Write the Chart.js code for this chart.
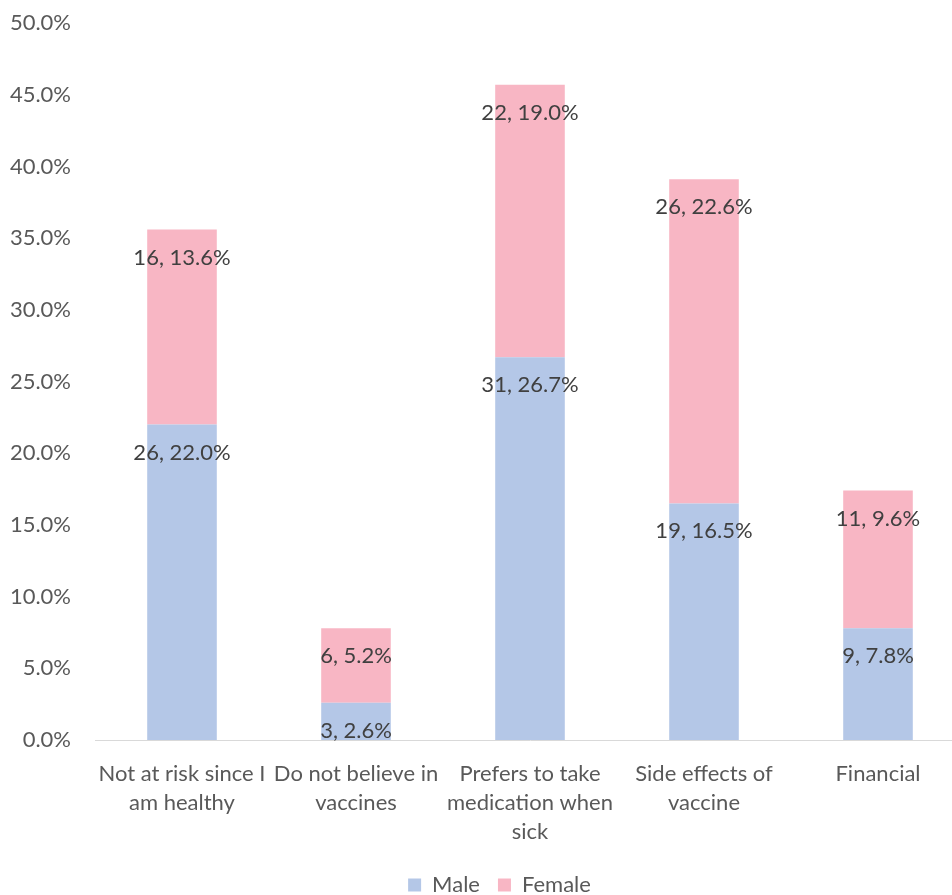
<!DOCTYPE html>
<html>
<head>
<meta charset="utf-8">
<script src="https://cdn.jsdelivr.net/npm/chart.js@4.4.1/dist/chart.umd.min.js"></script>
<style>
  html, body { margin: 0; padding: 0; background: #fff; }
  #wrap { width: 952px; height: 895px; overflow: hidden; position: relative; }
  #box { width: 1000px; height: 906px; }
</style>
</head>
<body>
<div id="wrap"><div id="box"><canvas id="c"></canvas></div></div>
<script>
// ---- data ----
const categories = [
  ['Not at risk since I', 'am healthy'],
  ['Do not believe in', 'vaccines'],
  ['Prefers to take', 'medication when', 'sick'],
  ['Side effects of', 'vaccine'],
  ['Financial']
];
const malePct     = [22.0, 2.6, 26.7, 16.5, 7.8];
const maleCount   = [26, 3, 31, 19, 9];
const femalePct   = [13.6, 5.2, 19.0, 22.6, 9.6];
const femaleCount = [16, 6, 22, 26, 11];
const yTicks      = [0, 5, 10, 15, 20, 25, 30, 35, 40, 45, 50];

const FONT = 'Lato, "Open Sans", sans-serif';
const TXT = '#595959';

// inside-end labels "count, pct%"
const barLabels = {
  id: 'barLabels',
  afterDatasetsDraw(chart) {
    const ctx = chart.ctx;
    ctx.save();
    ctx.font = '22px ' + FONT;
    ctx.fillStyle = '#404040';
    ctx.textAlign = 'center';
    ctx.textBaseline = 'middle';
    chart.data.datasets.forEach((ds, di) => {
      const meta = chart.getDatasetMeta(di);
      meta.data.forEach((bar, i) => {
        const txt = ds.counts[i] + ', ' + ds.data[i].toFixed(1) + '%';
        ctx.fillText(txt, bar.x, bar.y + 28);
      });
    });
    ctx.restore();
  }
};

// legend centred on the whole figure rather than the plot box
const legendShift = {
  id: 'legendShift',
  afterLayout(chart) {
    if (chart.legend) { chart.legend.left += 17; chart.legend.right += 17; }
  }
};

new Chart(document.getElementById('c'), {
  type: 'bar',
  data: {
    labels: categories,
    datasets: [
      { label: 'Male', data: malePct, counts: maleCount, backgroundColor: '#b4c7e7', stack: 's',
        barPercentage: 0.8, categoryPercentage: 0.5 },
      { label: 'Female', data: femalePct, counts: femaleCount, backgroundColor: '#f8b6c4', stack: 's',
        barPercentage: 0.8, categoryPercentage: 0.5 }
    ]
  },
  options: {
    responsive: true,
    maintainAspectRatio: false,
    animation: false,
    layout: { padding: { top: 0, right: 35, left: 0, bottom: 0 } },
    scales: {
      x: {
        stacked: true,
        grid: { display: false },
        border: { display: true, color: '#d9d9d9', width: 1 },
        ticks: { color: TXT, font: { family: FONT, size: 22, lineHeight: 1.3 }, padding: 12, maxRotation: 0, autoSkip: false },
        afterFit(s) { s.height = 116; }
      },
      y: {
        stacked: true,
        min: 0, max: 50,
        afterBuildTicks(s) { s.ticks = yTicks.map(v => ({ value: v })); },
        grid: { display: false },
        border: { display: false },
        ticks: { color: TXT, font: { family: FONT, size: 22, lineHeight: 0.64 }, padding: 16, autoSkip: false,
                 callback: v => v.toFixed(1) + '%' },
        afterFit(s) { s.width = 95; }
      }
    },
    plugins: {
      legend: {
        position: 'bottom',
        labels: { color: TXT, font: { family: FONT, size: 22 }, boxWidth: 13, boxHeight: 13, padding: 18 }
      },
      tooltip: { enabled: false }
    }
  },
  plugins: [barLabels, legendShift]
});
</script>
</body>
</html>
